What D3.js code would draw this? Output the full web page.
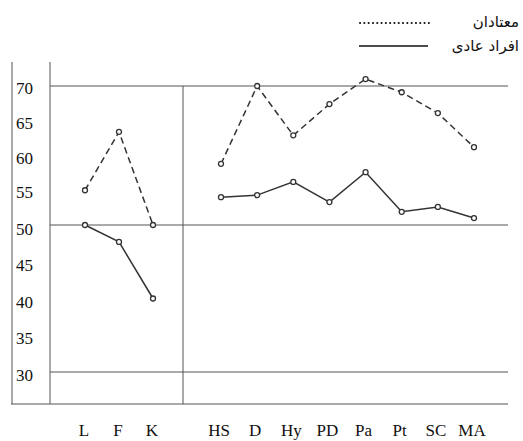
<!DOCTYPE html>
<html>
<head>
<meta charset="utf-8">
<script src="https://cdn.jsdelivr.net/npm/d3@7"></script>
<style>
    html, body { margin: 0; padding: 0; background: #fff; }
</style>
</head>
<body>
<svg id="chart"></svg>
<script>
// Validity scales (left panel) and clinical scales (right panel)
const validityScales = ['L', 'F', 'K'];
const clinicalScales = ['HS', 'D', 'Hy', 'PD', 'Pa', 'Pt', 'SC', 'MA'];

// T scores
const addictsValidity = [55, 63.4, 50];
const addictsClinical = [58.8, 70, 62.9, 67.4, 71, 69.1, 66.1, 61.2];
const normalValidity = [50, 47.7, 40];
const normalClinical = [54, 54.3, 56.2, 53.3, 57.6, 51.9, 52.6, 51];

const yTicks = [30, 35, 40, 45, 50, 55, 60, 65, 70];
const gridValues = [30, 50, 70];

const legendLabels = ['معتادان', 'افراد عادی'];

const width = 523;
const height = 441;

const svg = d3.select('#chart')
    .attr('width', width)
    .attr('height', height);

// The scanned chart is a little stretched below 50, hence three stops
const y = d3.scaleLinear().domain([30, 50, 70]).range([372, 225, 86]);
const xLeft = d3.scalePoint().domain(validityScales).range([85, 153]);
const xRight = d3.scalePoint().domain(clinicalScales).range([221, 474]);

const lineColour = '#333';
const gridColour = '#555';

// Frame: outer axis line, panel edges, base line
const frame = svg.append('g').attr('stroke', gridColour).attr('stroke-width', 1);
frame.append('line').attr('x1', 12).attr('x2', 12).attr('y1', 62).attr('y2', 404);
frame.append('line').attr('x1', 50).attr('x2', 50).attr('y1', 62).attr('y2', 404);
frame.append('line').attr('x1', 183).attr('x2', 183).attr('y1', y(70)).attr('y2', 404);
frame.append('line').attr('x1', 11).attr('x2', 508).attr('y1', 404).attr('y2', 404);

// Horizontal reference lines at 30, 50 and 70
frame.selectAll('line.grid')
    .data(gridValues)
    .enter()
    .append('line')
    .attr('class', 'grid')
    .attr('x1', 50)
    .attr('x2', 508)
    .attr('y1', d => y(d))
    .attr('y2', d => y(d));

// Y tick labels
svg.append('g')
    .attr('font-family', '"Liberation Serif", serif')
    .attr('font-size', 17)
    .attr('fill', '#111')
    .attr('text-anchor', 'end')
    .selectAll('text')
    .data(yTicks)
    .enter()
    .append('text')
    .attr('x', 33)
    .attr('y', d => y(d) + (d < 50 ? 9 : (d === 50 ? 10 : 8)))
    .text(d => d);

// X labels under each panel
const xLabels = svg.append('g')
    .attr('font-family', '"Liberation Serif", serif')
    .attr('font-size', 17)
    .attr('fill', '#111')
    .attr('text-anchor', 'middle');
xLabels.selectAll('text.left')
    .data(validityScales)
    .enter()
    .append('text')
    .attr('x', d => xLeft(d) - 1)
    .attr('y', 436)
    .text(d => d);
xLabels.selectAll('text.right')
    .data(clinicalScales)
    .enter()
    .append('text')
    .attr('x', d => xRight(d) - 2)
    .attr('y', 436)
    .text(d => d);

// Draw one profile (line + open circle markers) on one panel
function drawProfile (names, values, x, dashed) {
    const points = names.map((n, i) => [x(n), y(values[i])]);
    svg.append('path')
        .attr('d', d3.line()(points))
        .attr('fill', 'none')
        .attr('stroke', lineColour)
        .attr('stroke-width', 1.5)
        .attr('stroke-dasharray', dashed ? '6.5,4' : null);
    svg.append('g')
        .selectAll('circle')
        .data(points)
        .enter()
        .append('circle')
        .attr('cx', d => d[0])
        .attr('cy', d => d[1])
        .attr('r', 2.5)
        .attr('fill', '#fff')
        .attr('stroke', lineColour)
        .attr('stroke-width', 1.3);
}

drawProfile(validityScales, addictsValidity, xLeft, true);
drawProfile(clinicalScales, addictsClinical, xRight, true);
drawProfile(validityScales, normalValidity, xLeft, false);
drawProfile(clinicalScales, normalClinical, xRight, false);

// Legend, top right
const legend = svg.append('g');
legend.append('line')
    .attr('x1', 360).attr('x2', 432)
    .attr('y1', 23).attr('y2', 23)
    .attr('stroke', '#111')
    .attr('stroke-width', 2)
    .attr('stroke-linecap', 'round')
    .attr('stroke-dasharray', '0.1,4.2');
legend.append('line')
    .attr('x1', 359).attr('x2', 428)
    .attr('y1', 46).attr('y2', 46)
    .attr('stroke', '#111')
    .attr('stroke-width', 1.6);
legend.selectAll('text')
    .data(legendLabels)
    .enter()
    .append('text')
    .attr('x', 519)
    .attr('y', (d, i) => 27 + i * 24)
    .attr('text-anchor', 'end')
    .attr('font-family', '"DejaVu Sans", sans-serif')
    .attr('font-size', 15)
    .attr('fill', '#111')
    .text(d => d);
</script>
</body>
</html>
